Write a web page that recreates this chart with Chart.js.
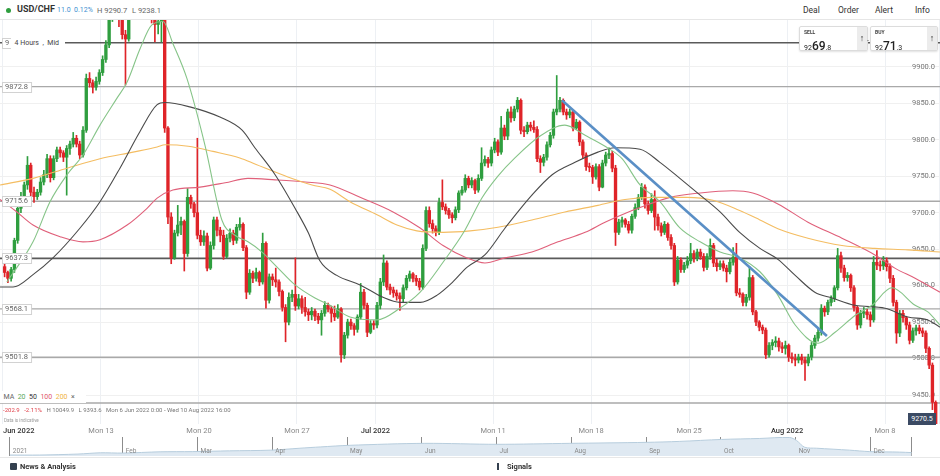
<!DOCTYPE html>
<html>
<head>
<meta charset="utf-8">
<script src="https://cdn.jsdelivr.net/npm/chart.js@4.4.1/dist/chart.umd.min.js"></script>
<style>
  body { margin: 0; width: 940px; height: 476px; overflow: hidden; background: #fff; position: relative; font-family: Roboto, "Open Sans", sans-serif; color: #333; }
  .abs { position: absolute; white-space: nowrap; }
  #hdr { position: absolute; left: 0; top: 0; width: 940px; height: 19px; border-bottom: 1px solid #e6e6e6; }
  #main { position: absolute; left: 0; top: 20px; }
  #nav { position: absolute; left: 0; top: 437px; }
  .box { position: absolute; background: #fff; border: 1px solid #dcdcdc; border-radius: 2px; box-shadow: 0 1px 2px rgba(0,0,0,0.12); }
  .box .lbl { position: absolute; left: 4px; top: 2px; font-size: 5px; font-weight: 700; color: #444; }
  .box .px { position: absolute; left: 4px; top: 8px; color: #222; }
  .box .px small { font-size: 7px; }
  .box .px b { font-size: 12px; font-weight: 500; }
  .box .arr { position: absolute; right: 0; top: 0; width: 10px; height: 100%; background: #ececec; font-size: 9px; text-align: center; line-height: 23px; color: #333; }
  #news { position: absolute; left: 0; top: 457px; width: 940px; height: 19px; border-top: 1px solid #e8e8e8; }
</style>
</head>
<body>
<div id="hdr"></div>
<div class="abs" style="left:6px;top:8px;width:5px;height:5px;border-radius:50%;background:#2e9e3e"></div>
<div class="abs" style="left:17px;top:4px;font-size:9px;font-weight:700;color:#333">USD/CHF</div>
<div class="abs" style="left:57px;top:6px;font-size:7px;color:#3d8fd1">11.0</div>
<div class="abs" style="left:74px;top:6px;font-size:7px;color:#3d8fd1">0.12%</div>
<div class="abs" style="left:97px;top:6px;font-size:7.5px;color:#666">H 9290.7</div>
<div class="abs" style="left:132px;top:6px;font-size:7.5px;color:#666">L 9238.1</div>
<div class="abs" style="left:803px;top:5px;font-size:8.5px">Deal</div>
<div class="abs" style="left:838px;top:5px;font-size:8.5px">Order</div>
<div class="abs" style="left:875px;top:5px;font-size:8.5px">Alert</div>
<div class="abs" style="left:915px;top:5px;font-size:8.5px">Info</div>

<canvas id="main" width="940" height="418"></canvas>
<canvas id="nav" width="940" height="19"></canvas>

<div class="abs" style="left:11px;top:37px;width:54px;height:12px;background:#fff;font-size:7px;color:#444;line-height:12px">&nbsp;&nbsp;4 Hours &nbsp;, &nbsp;Mid</div>

<div class="box" style="left:799px;top:26px;width:67px;height:23px">
  <div class="lbl">SELL</div>
  <div class="px"><small>92</small><b>69</b><small>.8</small></div>
  <div class="arr">&#8593;</div>
</div>
<div class="abs" style="left:867px;top:37px;font-size:7px;color:#555">-</div>
<div class="box" style="left:870px;top:26px;width:66px;height:23px">
  <div class="lbl">BUY</div>
  <div class="px"><small>92</small><b>71</b><small>.3</small></div>
  <div class="arr">&#8593;</div>
</div>

<div class="abs" style="left:0;top:391px;width:86px;height:12px;background:#fff;font-size:7px;line-height:12px;color:#666">
  &nbsp;&nbsp;MA &nbsp;<span style="color:#5aa85a">20</span> &nbsp;<span style="color:#333">50</span> &nbsp;<span style="color:#e0566a">100</span> &nbsp;<span style="color:#f0b444">200</span> &nbsp;×
</div>
<div class="abs" style="left:3px;top:406px;font-size:6px;color:#777">
  <span style="color:#e0404a">-202.9</span> &nbsp;&nbsp;<span style="color:#e0404a">-2.11%</span> &nbsp;&nbsp;H 10049.9 &nbsp;&nbsp;L 9393.6 &nbsp;&nbsp;Mon 6 Jun 2022 0:00 - Wed 10 Aug 2022 16:00
</div>
<div class="abs" style="left:4px;top:418px;font-size:4.6px;color:#999">Data is indicative</div>
<div class="abs" style="left:908px;top:413px;width:28px;height:12px;background:#3b4a63;color:#fff;font-size:7px;line-height:12px;text-align:center">9270.5</div>

<div id="news">
  <div class="abs" style="left:10px;top:5px;width:7px;height:7px;background:#34404f;border-radius:1px"></div>
  <div class="abs" style="left:20px;top:4px;font-size:7.5px;font-weight:700;color:#333">News &amp; Analysis</div>
  <div class="abs" style="left:497px;top:5px;width:6px;height:7px;border-left:2px solid #34404f"></div>
  <div class="abs" style="left:507px;top:4px;font-size:7.5px;font-weight:700;color:#333">Signals</div>
</div>

<script>
// USD/CHF 4h candles, Mon 6 Jun 2022 0:00 -> Wed 10 Aug 2022 16:00 (pips, 9637.3 = 0.96373)
const firstOpen = 9626;
const closes = [
  9618, 9610, 9622, 9662, 9706, 9722, 9738, 9765, 9728, 9722,
  9728, 9742, 9752, 9774, 9748, 9774, 9786, 9782, 9776, 9788,
  9794, 9802, 9794, 9779, 9813, 9884, 9878, 9872, 9880, 9892,
  9910, 9930, 9968, 9990, 10005, 9975, 9944, 9938, 10010, 10025,
  10040, 10030, 10020, 10010, 9995, 9975, 9958, 9962, 9966, 9816,
  9694, 9638, 9672, 9683, 9688, 9644, 9721, 9712, 9700, 9669,
  9660, 9668, 9624, 9655, 9690, 9676, 9669, 9640, 9665, 9672,
  9662, 9680, 9684, 9652, 9591, 9617, 9610, 9618, 9605, 9658,
  9580, 9612, 9608, 9605, 9592, 9570, 9550, 9584, 9588, 9572,
  9582, 9570, 9564, 9560, 9565, 9558, 9553, 9562, 9573, 9568,
  9562, 9557, 9568, 9505, 9532, 9550, 9545, 9540, 9557, 9591,
  9573, 9536, 9548, 9546, 9573, 9605, 9631, 9598, 9594, 9590,
  9586, 9582, 9597, 9610, 9616, 9610, 9606, 9598, 9651, 9703,
  9685, 9678, 9673, 9714, 9708, 9703, 9697, 9693, 9704, 9727,
  9731, 9747, 9738, 9744, 9731, 9747, 9768, 9773, 9768, 9786,
  9797, 9783, 9816, 9805, 9838, 9830, 9842, 9854, 9813, 9811,
  9820, 9817, 9814, 9774, 9769, 9776, 9793, 9806, 9838, 9842,
  9854, 9838, 9834, 9838, 9816, 9824, 9797, 9779, 9763, 9762,
  9749, 9763, 9735, 9768, 9779, 9781, 9761, 9673, 9687, 9690,
  9684, 9676, 9695, 9707, 9721, 9735, 9712, 9703, 9718, 9694,
  9682, 9673, 9684, 9666, 9655, 9605, 9635, 9622, 9628, 9634,
  9644, 9638, 9646, 9640, 9625, 9640, 9655, 9631, 9626, 9630,
  9624, 9619, 9632, 9639, 9590, 9588, 9577, 9584, 9611, 9564,
  9550, 9543, 9539, 9505, 9518, 9522, 9524, 9516, 9514, 9518,
  9502, 9500, 9498, 9502, 9498, 9494, 9502, 9518, 9528, 9536,
  9569, 9564, 9577, 9582, 9597, 9641, 9624, 9611, 9614, 9597,
  9570, 9546, 9562, 9564, 9560, 9553, 9632, 9628, 9627, 9634,
  9626, 9610, 9577, 9535, 9562, 9556, 9546, 9525, 9538, 9542,
  9538, 9535, 9514, 9491, 9440, 9262, 9270
];
const highs = [
  9630, 9620, 9625, 9665, 9712, 9728, 9742, 9777, 9768, 9735,
  9732, 9748, 9758, 9780, 9778, 9778, 9790, 9790, 9785, 9792,
  9798, 9810, 9806, 9798, 9818, 9890, 9892, 9882, 9886, 9896,
  9915, 9936, 9980, 10000, 10020, 10010, 9985, 9950, 10020, 10035,
  10050, 10045, 10040, 10025, 10015, 9995, 9980, 9975, 9975, 9972,
  9818, 9700, 9676, 9710, 9694, 9690, 9733, 9724, 9714, 9802,
  9676, 9675, 9672, 9660, 9694, 9694, 9680, 9676, 9670, 9678,
  9676, 9684, 9693, 9686, 9655, 9622, 9620, 9624, 9620, 9672,
  9660, 9616, 9616, 9624, 9608, 9594, 9574, 9590, 9594, 9638,
  9588, 9586, 9584, 9568, 9570, 9568, 9562, 9566, 9578, 9576,
  9572, 9572, 9574, 9570, 9536, 9554, 9554, 9548, 9560, 9603,
  9595, 9576, 9552, 9552, 9577, 9610, 9642, 9634, 9602, 9598,
  9594, 9590, 9601, 9614, 9620, 9618, 9614, 9610, 9656, 9708,
  9708, 9690, 9682, 9720, 9745, 9712, 9706, 9700, 9708, 9730,
  9736, 9752, 9750, 9748, 9746, 9752, 9789, 9778, 9776, 9790,
  9802, 9800, 9832, 9820, 9842, 9845, 9846, 9858, 9856, 9818,
  9824, 9824, 9826, 9818, 9778, 9780, 9797, 9810, 9842, 9888,
  9858, 9856, 9842, 9842, 9840, 9828, 9826, 9800, 9782, 9768,
  9765, 9767, 9766, 9772, 9783, 9789, 9784, 9765, 9691, 9694,
  9692, 9688, 9698, 9712, 9725, 9740, 9738, 9716, 9726, 9730,
  9698, 9686, 9688, 9686, 9670, 9658, 9640, 9638, 9632, 9640,
  9658, 9648, 9650, 9650, 9644, 9644, 9664, 9658, 9636, 9634,
  9634, 9628, 9636, 9652, 9658, 9596, 9590, 9588, 9626, 9614,
  9566, 9552, 9546, 9542, 9522, 9526, 9530, 9528, 9522, 9524,
  9520, 9508, 9506, 9506, 9506, 9502, 9506, 9522, 9532, 9540,
  9574, 9572, 9580, 9586, 9600, 9651, 9646, 9628, 9618, 9616,
  9600, 9572, 9566, 9570, 9568, 9564, 9640, 9648, 9634, 9640,
  9638, 9630, 9614, 9580, 9566, 9566, 9558, 9550, 9542, 9546,
  9546, 9542, 9538, 9516, 9494, 9442, 9290
];
const lows = [
  9612, 9604, 9606, 9618, 9658, 9700, 9718, 9732, 9722, 9714,
  9718, 9724, 9738, 9748, 9742, 9745, 9770, 9776, 9770, 9724,
  9780, 9790, 9790, 9774, 9776, 9810, 9872, 9864, 9868, 9876,
  9888, 9906, 9926, 9962, 9985, 9955, 9938, 9875, 9935, 10000,
  10015, 10015, 10005, 9990, 9975, 9960, 9934, 9945, 9934, 9810,
  9685, 9630, 9636, 9668, 9670, 9620, 9640, 9706, 9694, 9664,
  9655, 9655, 9620, 9622, 9650, 9668, 9660, 9636, 9638, 9660,
  9656, 9658, 9676, 9648, 9582, 9588, 9604, 9606, 9600, 9602,
  9569, 9576, 9600, 9598, 9586, 9565, 9523, 9546, 9578, 9566,
  9568, 9562, 9558, 9552, 9553, 9552, 9548, 9532, 9558, 9564,
  9550, 9552, 9555, 9495, 9500, 9528, 9540, 9532, 9536, 9554,
  9568, 9530, 9534, 9540, 9542, 9568, 9600, 9594, 9588, 9584,
  9580, 9566, 9578, 9594, 9606, 9605, 9600, 9594, 9595, 9648,
  9680, 9672, 9668, 9670, 9704, 9698, 9692, 9686, 9690, 9700,
  9724, 9728, 9734, 9734, 9726, 9728, 9744, 9764, 9762, 9764,
  9782, 9778, 9780, 9800, 9800, 9824, 9826, 9838, 9808, 9804,
  9808, 9812, 9810, 9770, 9755, 9764, 9772, 9790, 9802, 9834,
  9838, 9834, 9828, 9830, 9812, 9814, 9792, 9775, 9758, 9756,
  9740, 9746, 9730, 9734, 9764, 9774, 9756, 9655, 9670, 9680,
  9680, 9672, 9672, 9692, 9704, 9718, 9706, 9698, 9700, 9676,
  9676, 9668, 9670, 9662, 9650, 9600, 9602, 9618, 9618, 9624,
  9630, 9632, 9634, 9636, 9620, 9622, 9636, 9626, 9620, 9622,
  9620, 9605, 9616, 9628, 9586, 9584, 9572, 9572, 9580, 9560,
  9545, 9538, 9534, 9500, 9502, 9512, 9516, 9510, 9508, 9506,
  9496, 9494, 9490, 9494, 9492, 9470, 9490, 9498, 9514, 9524,
  9532, 9558, 9560, 9572, 9578, 9594, 9618, 9606, 9606, 9592,
  9565, 9540, 9542, 9556, 9554, 9544, 9550, 9622, 9620, 9622,
  9620, 9604, 9572, 9521, 9530, 9550, 9540, 9520, 9522, 9532,
  9534, 9530, 9508, 9486, 9430, 9238, 9258
];

// moving averages: [candle index, value]
const ma20 = [
  [0.7, 9605], [8.7, 9660], [13.9, 9715], [19.1, 9752], [24, 9779], [29.2, 9820], [34.4, 9857],
  [37.5, 9879], [41.4, 9924], [45, 9957], [48.5, 9962], [51.5, 9932], [55.8, 9884], [61.3, 9793],
  [66.5, 9690], [70.5, 9669], [74.5, 9660], [78.8, 9646], [83.7, 9624], [88.9, 9601], [95, 9583],
  [99.6, 9573], [105.7, 9557], [114, 9553], [121, 9569], [127.2, 9591], [134.2, 9632], [140.9, 9676],
  [146.1, 9720], [151, 9750], [156.2, 9775], [163.9, 9805], [171.5, 9820], [177.7, 9806], [183.8, 9791],
  [189, 9774], [194.5, 9738], [200.6, 9715], [206.7, 9679], [212.9, 9660], [219, 9646], [225, 9638],
  [231.2, 9619], [236.4, 9589], [242, 9546], [249, 9521], [254.2, 9536], [260.3, 9559], [265.5, 9573],
  [271.6, 9597], [278.7, 9573], [282.6, 9564], [286.3, 9546]
];
const ma50 = [
  [-1.4, 9598], [2.6, 9598], [8.7, 9615], [14.8, 9638], [23.1, 9679], [29.2, 9715], [35.3, 9761],
  [41.4, 9811], [46.7, 9848], [49.1, 9851], [56.7, 9845], [65.9, 9831], [72.7, 9813], [76.6, 9789],
  [82.8, 9752], [88.9, 9706], [93, 9672], [96.5, 9634], [101.7, 9614], [108.8, 9601], [115.8, 9584],
  [121, 9577], [127.2, 9577], [132.4, 9587], [137.2, 9605], [141.5, 9625], [147, 9642], [153.2, 9679],
  [161.4, 9724], [167.6, 9752], [174.6, 9769], [181.6, 9783], [186.8, 9789], [194.5, 9787], [200.6, 9769],
  [206.7, 9747], [212.9, 9724], [219, 9701], [225, 9673], [231.2, 9651], [236.7, 9636], [242, 9614],
  [248, 9591], [253.3, 9583], [260.3, 9573], [269.5, 9569], [276.5, 9557], [282.6, 9553], [286.3, 9543]
];
const ma100 = [
  [-1.4, 9718], [3.2, 9703], [8.7, 9683], [17, 9667], [24, 9660], [29.2, 9663], [37.5, 9683],
  [43.6, 9706], [46.7, 9720], [51.5, 9731], [59.8, 9735], [67.5, 9741], [74.5, 9747], [82.8, 9745],
  [92, 9742], [99.6, 9738], [108.8, 9721], [118.9, 9701], [127.2, 9679], [134.2, 9655], [141.5, 9638],
  [147, 9631], [153.2, 9638], [161.4, 9646], [169.4, 9660], [177.7, 9673], [183.8, 9687], [189.9, 9699],
  [194.5, 9707], [203.7, 9721], [212.9, 9727], [222.9, 9730], [229, 9727], [236.7, 9712], [245.9, 9687],
  [256.3, 9665], [266.4, 9642], [272.5, 9624], [278.7, 9610], [286.3, 9591]
];
const ma200 = [
  [-1.4, 9738], [8.7, 9747], [19.1, 9761], [29.2, 9774], [39.3, 9783], [46.7, 9790], [49.1, 9793],
  [56.2, 9791], [63.8, 9784], [72, 9775], [77, 9766], [86.7, 9749], [94.1, 9738], [99.6, 9732],
  [105.7, 9715], [114, 9697], [120.1, 9683], [126.2, 9675], [134.2, 9673], [142.5, 9675], [151, 9680],
  [161.4, 9690], [171.5, 9701], [181.6, 9710], [189.9, 9718], [198.5, 9721], [208.9, 9721], [216.8, 9717],
  [225, 9703], [231.2, 9690], [236.7, 9678], [245.9, 9665], [256.3, 9655], [266.4, 9651], [276.5, 9649],
  [286.3, 9646]
];
const trendLine = [[170.6, 9854], [251.7, 9531]];

// horizontal levels and their left tags
const levels = [9933, 9872.8, 9715.6, 9637.3, 9568.1, 9501.8, 9439];
const levelTags = ['9', '9872.8', '9715.6', '9637.3', '9568.1', '9501.8', ''];
const levelDark = [true, false, false, true, false, false, false];

const yTicks = [9450, 9500, 9550, 9600, 9650, 9700, 9750, 9800, 9850, 9900];
const xTickPos = [-0.5, 29.5, 59.5, 89.5, 113.5, 149.5, 179.5, 209.5, 239.5, 269.5, 286.3];
const xTickLabels = ['Jun 2022', 'Mon 13', 'Mon 20', 'Mon 27', 'Jul 2022', 'Mon 11', 'Mon 18', 'Mon 25', 'Aug 2022', 'Mon 8', ''];

// navigator strip
const navPos = [-0.51, -0.11, 0.4, 0.7, 1.0, 1.5, 1.93, 2.43, 2.98, 3.37, 3.64, 4.04, 5.04, 6.0, 6.98, 8.0, 8.45, 9.01, 9.52, 9.92, 10.01, 10.12, 10.28, 10.72, 10.99, 11.39, 11.55];
const navVals = [1, 1, 2, 3.3, 3, 4.3, 4.5, 5.3, 6, 8, 9.3, 11, 13, 12, 13, 14, 15, 17, 18, 19, 16, 9, 8, 6, 4.5, 4, 3.5];
const navTickPos = [-0.51, 1, 2, 3, 4, 5, 6, 7, 8, 9, 10, 11, 11.55];
const navTickLabels = ['2021', 'Feb', 'Mar', 'Apr', 'May', 'Jun', 'Jul', 'Aug', 'Sep', 'Oct', 'Nov', 'Dec', ''];

const FONT = 'Roboto, "Open Sans", sans-serif';
const UP = '#2f9e3f', DOWN = '#df2429';
const opens = closes.map((c, i) => i === 0 ? firstOpen : closes[i - 1]);
const candleColor = ctx => closes[ctx.dataIndex] >= opens[ctx.dataIndex] ? UP : DOWN;
const isMonth = k => / 2022$/.test(xTickLabels[k] || '');

function maSet(points, color, width, order) {
  return {
    type: 'line', data: points.map(p => ({x: p[0], y: p[1]})),
    borderColor: color, borderWidth: width, pointRadius: 0,
    cubicInterpolationMode: 'monotone', order: order, clip: 0
  };
}

const levelSets = levels.map((v, k) => ({
  type: 'line', data: [{x: -2, y: v}, {x: 290, y: v}],
  borderColor: levelDark[k] ? '#5a5a5a' : '#a9a9a9', borderWidth: levelDark[k] ? 1.6 : 1.4,
  pointRadius: 0, order: 10, clip: 0
}));

const levelLabels = {
  id: 'levelLabels',
  afterDatasetsDraw(chart) {
    const {ctx} = chart;
    const y = chart.scales.y;
    ctx.save();
    ctx.font = '7.5px ' + FONT;
    ctx.textBaseline = 'middle';
    levels.forEach((v, k) => {
      if (!levelTags[k]) return;
      const py = Math.round(y.getPixelForValue(v));
      const w = ctx.measureText(levelTags[k]).width + 6;
      ctx.fillStyle = '#fff';
      ctx.fillRect(2, py - 5, w, 10);
      ctx.strokeStyle = '#d2d2d2';
      ctx.lineWidth = 1;
      ctx.strokeRect(2.5, py - 4.5, w, 10);
      ctx.fillStyle = '#666';
      ctx.fillText(levelTags[k], 5, py + 0.5);
    });
    ctx.restore();
  }
};

const mainChart = new Chart(document.getElementById('main'), {
  type: 'bar',
  data: {
    datasets: [
      ...levelSets,
      {
        type: 'bar', data: closes.map((c, i) => ({x: i, y: [lows[i], highs[i]]})),
        backgroundColor: candleColor, barThickness: 1, grouped: false, minBarLength: 1, order: 6, clip: 0
      },
      {
        type: 'bar', data: closes.map((c, i) => ({x: i, y: [opens[i], c]})),
        backgroundColor: candleColor, barThickness: 2.7, grouped: false, minBarLength: 1, order: 5, clip: 0
      },
      maSet(ma200, '#f4bd62', 1.1, 4),
      maSet(ma100, '#e0607a', 1.1, 4),
      maSet(ma50, '#4a4a4a', 1.1, 3),
      maSet(ma20, '#86c488', 1.1, 2),
      {
        type: 'line', data: trendLine.map(p => ({x: p[0], y: p[1]})),
        borderColor: '#5a8fc6', borderWidth: 2.6, pointRadius: 0, order: 1, clip: 0
      }
    ]
  },
  options: {
    responsive: false,
    animation: false,
    layout: {padding: 0},
    plugins: {legend: {display: false}, tooltip: {enabled: false}},
    scales: {
      x: {
        type: 'linear', min: -1.41, max: 286.32, offset: false,
        grid: {offset: false, color: '#edf0f4', drawTicks: false},
        border: {display: false},
        afterBuildTicks: s => { s.ticks = xTickPos.map(v => ({value: v})); },
        afterFit: s => { s.height = 14; s.paddingLeft = 0; s.paddingRight = 0; },
        ticks: {
          align: 'inner', padding: 3, maxRotation: 0, autoSkip: false,
          callback: (v, i) => xTickLabels[i],
          font: c => ({size: 7.5, family: FONT, weight: isMonth(c.index) ? '500' : '400'}),
          color: c => isMonth(c.index) ? '#333' : '#888'
        }
      },
      y: {
        position: 'right', min: 9410.3, max: 9964.1, z: 1,
        grid: {color: '#f0f0f0', drawTicks: false},
        border: {display: false},
        afterBuildTicks: s => { s.ticks = yTicks.map(v => ({value: v})); },
        afterFit: s => { s.width = 0; s.paddingTop = 0; s.paddingBottom = 0; },
        ticks: {mirror: true, padding: -5, callback: v => v.toFixed(1), font: {size: 7.5, family: FONT}, color: '#777'}
      }
    }
  },
  plugins: [levelLabels]
});

const navLabels = {
  id: 'navLabels',
  afterDraw(chart) {
    const {ctx} = chart;
    const x = chart.scales.x;
    ctx.save();
    ctx.font = '6.5px ' + FONT;
    ctx.fillStyle = '#888';
    ctx.textBaseline = 'middle';
    navTickPos.forEach((v, k) => {
      if (navTickLabels[k]) ctx.fillText(navTickLabels[k], x.getPixelForValue(v) + 3, chart.chartArea.bottom - 5);
    });
    ctx.restore();
  }
};

const navChart = new Chart(document.getElementById('nav'), {
  type: 'line',
  data: {
    datasets: [{
      data: navPos.map((m, k) => ({x: m, y: navVals[k]})),
      fill: 'origin', backgroundColor: '#dfe9f2', borderColor: '#b7cddd', borderWidth: 1,
      pointRadius: 0, tension: 0.3
    }]
  },
  options: {
    responsive: false,
    animation: false,
    layout: {padding: 0},
    plugins: {legend: {display: false}, tooltip: {enabled: false}},
    scales: {
      x: {
        type: 'linear', min: -0.642, max: 11.93,
        grid: {color: '#8c8c8c', drawTicks: false},
        border: {display: false},
        afterBuildTicks: s => { s.ticks = navTickPos.map(v => ({value: v})); },
        afterFit: s => { s.height = 0; s.paddingLeft = 0; s.paddingRight = 0; },
        ticks: {display: false}
      },
      y: {display: false, min: 0, max: 19.5}
    }
  },
  plugins: [navLabels]
});
</script>
</body>
</html>
